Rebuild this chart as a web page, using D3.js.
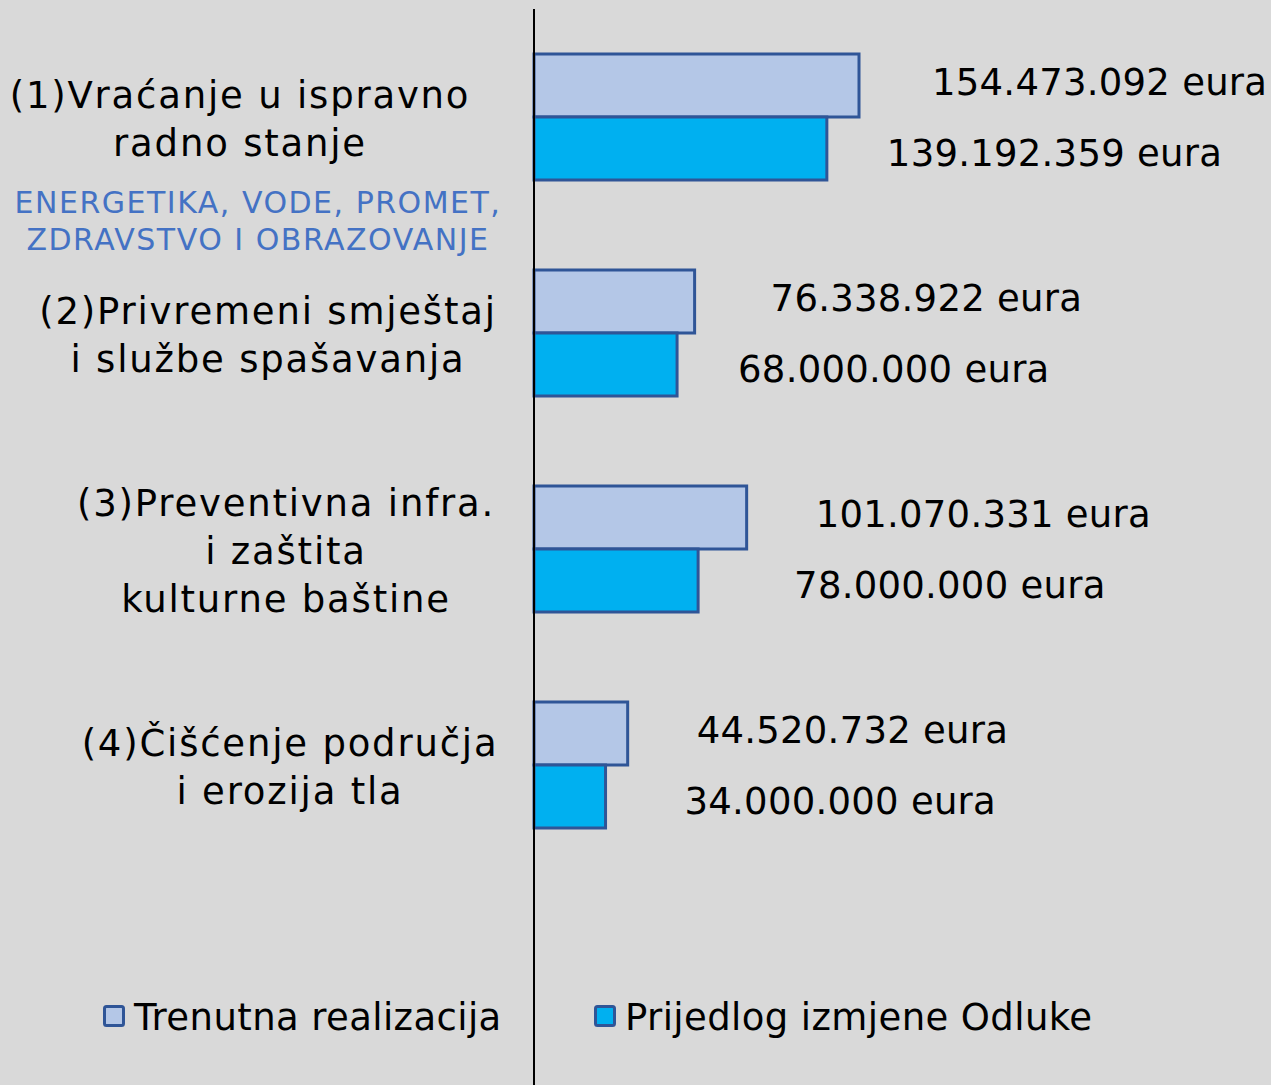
<!DOCTYPE html>
<html>
<head>
<meta charset="utf-8">
<script src="https://cdn.jsdelivr.net/npm/d3@7"></script>
<style>
  body { margin: 0; background: #d9d9d9; }
  svg { display: block; font-family: "DejaVu Sans", Verdana, sans-serif; }
</style>
</head>
<body>
<div id="chart"></div>
<script>
var svg_dx = 1271,
    svg_dy = 1085,
    axis_x = 534;

// data
var categories = ['(1)', '(2)', '(3)', '(4)'];
var categoryLines = [
  ['(1)Vraćanje u ispravno', 'radno stanje'],
  ['(2)Privremeni smještaj', 'i službe spašavanja'],
  ['(3)Preventivna infra.', 'i zaštita', 'kulturne baštine'],
  ['(4)Čišćenje područja', 'i erozija tla']
];
var subtitleLines = ['ENERGETIKA, VODE, PROMET,', 'ZDRAVSTVO I OBRAZOVANJE'];
var series = ['Trenutna realizacija', 'Prijedlog izmjene Odluke'];
var trenutna = [154473092, 76338922, 101070331, 44520732];
var prijedlog = [139192359, 68000000, 78000000, 34000000];
var valueLabels = [
  ['154.473.092 eura', '76.338.922 eura', '101.070.331 eura', '44.520.732 eura'],
  ['139.192.359 eura', '68.000.000 eura', '78.000.000 eura', '34.000.000 eura']
];

// layout tweaks (hand placed labels, like the original slide)
var labelCenter = [240, 268, 286, 290];
var valueDx = [[73, 76, 69, 69], [60, 61, 96, 79]];
var valueDy = [9, 17];

var fills = ["#b4c7e7", "#00b0f0"],
    stroke = "#2f5597";

var x = d3.scaleLinear().domain([0, trenutna[0]]).range([axis_x, 859]);

var y = d3.scaleBand()
          .domain(categories)
          .range([9, 873])
          .paddingInner(90 / 216)
          .paddingOuter(45 / 216);

var ySub = d3.scaleBand().domain(series).range([0, y.bandwidth()]);

var color = d3.scaleOrdinal().domain(series).range(fills);

var svg = d3.select("#chart")
            .append("svg")
            .attr("width", svg_dx)
            .attr("height", svg_dy);

svg.append("rect")
   .attr("width", svg_dx)
   .attr("height", svg_dy)
   .attr("fill", "#d9d9d9");

var rows = categories.map(function(c, i) {
  return { cat: c, values: [trenutna[i], prijedlog[i]], idx: i };
});

var groups = svg.selectAll(".grp")
                .data(rows)
                .enter()
                .append("g")
                .attr("class", "grp")
                .attr("transform", d => "translate(0," + y(d.cat) + ")");

groups.selectAll("rect")
      .data(d => d.values.map((v, j) => ({ v: v, s: series[j] })))
      .enter()
      .append("rect")
      .attr("x", x(0))
      .attr("y", d => ySub(d.s))
      .attr("width", d => x(d.v) - x(0))
      .attr("height", ySub.bandwidth())
      .attr("fill", d => color(d.s))
      .attr("stroke", stroke)
      .attr("stroke-width", 3);

groups.selectAll(".val")
      .data(d => d.values.map((v, j) => ({ v: v, j: j, i: d.idx })))
      .enter()
      .append("text")
      .attr("class", "val")
      .attr("x", d => x(d.v) + valueDx[d.j][d.i])
      .attr("y", d => ySub(series[d.j]) + ySub.bandwidth() / 2 + valueDy[d.j])
      .style("font-size", "37px")
      .style("letter-spacing", "0.25px")
      .text(d => valueLabels[d.j][d.i]);

// category labels
groups.each(function(d) {
  var lines = categoryLines[d.idx],
      n = lines.length;
  d3.select(this).selectAll(".cat")
    .data(lines)
    .enter()
    .append("text")
    .attr("class", "cat")
    .attr("text-anchor", "middle")
    .attr("x", labelCenter[d.idx])
    .attr("y", (t, k) => 78 + (k - (n - 1) / 2) * 48)
    .style("font-size", "37px")
    .style("letter-spacing", "1.8px")
    .text(t => t);
});

svg.selectAll(".sub")
   .data(subtitleLines)
   .enter()
   .append("text")
   .attr("class", "sub")
   .attr("text-anchor", "middle")
   .attr("x", 258)
   .attr("y", (t, k) => 213 + k * 37)
   .attr("fill", "#4472c4")
   .style("font-size", "30px")
   .style("letter-spacing", "1.5px")
   .text(t => t);

// vertical axis line
svg.append("line")
   .attr("x1", axis_x).attr("x2", axis_x)
   .attr("y1", 9).attr("y2", svg_dy)
   .attr("stroke", "#000")
   .attr("stroke-width", 2);

// legend
var legendX = [103, 594];
var legend = svg.selectAll(".leg")
                .data(series)
                .enter()
                .append("g")
                .attr("class", "leg")
                .attr("transform", (d, i) => "translate(" + legendX[i] + ",1005)");

legend.append("rect")
      .attr("x", 1.5).attr("y", 1.5)
      .attr("width", 19).attr("height", 19)
      .attr("rx", 2)
      .attr("fill", d => color(d))
      .attr("stroke", stroke)
      .attr("stroke-width", 3);

legend.append("text")
      .attr("x", 31)
      .attr("y", 25)
      .style("font-size", "37px")
      .style("letter-spacing", "0.4px")
      .text(d => d);
</script>
</body>
</html>
